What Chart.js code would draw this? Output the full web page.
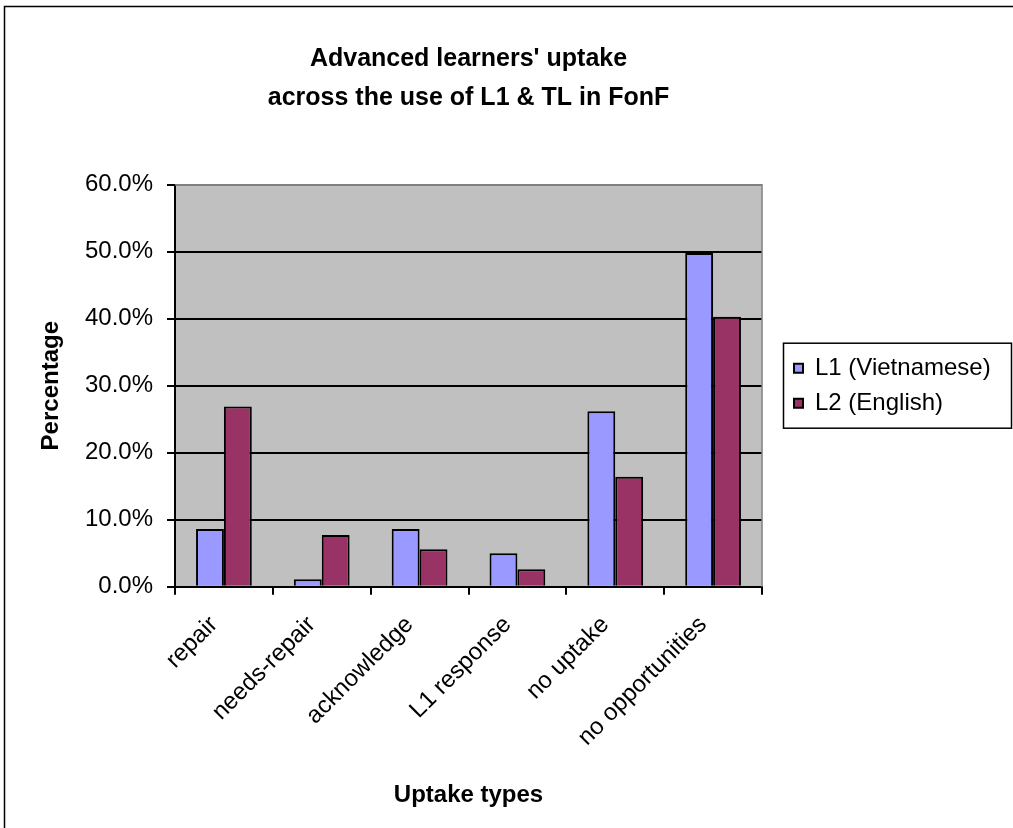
<!DOCTYPE html>
<html>
<head>
<meta charset="utf-8">
<script src="https://cdn.jsdelivr.net/npm/chart.js@4/dist/chart.umd.min.js"></script>
<style>
  html, body { margin: 0; padding: 0; background: #fff; }
  canvas { display: block; }
</style>
</head>
<body>
<canvas id="chart" width="1013" height="828"></canvas>
<script>
const categories = ['repair', 'needs-repair', 'acknowledge', 'L1 response', 'no uptake', 'no opportunities'];
const l1Vietnamese = [8.6, 1.1, 8.6, 5.0, 26.2, 49.8];
const l2English = [26.9, 7.7, 5.6, 2.6, 16.4, 40.3];
const yTicks = [0, 10, 20, 30, 40, 50, 60];

const FONT = 'Arial, "Liberation Sans", sans-serif';
Chart.defaults.font.family = FONT;
Chart.defaults.color = '#000';

// plot background, gray frame, legend size/shift + border, outer chart frame
const excelLook = {
  id: 'excelLook',
  beforeLayout(chart) {
    const lg = chart.legend;
    if (lg && !lg._fixedFit) {
      const fit = lg.fit;
      lg.fit = function () { fit.call(this); this.width = 251; };
      lg._fixedFit = true;
    }
  },
  afterLayout(chart) {
    const lg = chart.legend;
    lg.left += 21; lg.right += 21;
  },
  beforeDraw(chart) {
    const { ctx, chartArea: a } = chart;
    ctx.save();
    ctx.fillStyle = '#C0C0C0';
    ctx.fillRect(a.left, a.top, a.right - a.left, a.bottom - a.top);
    ctx.restore();
  },
  beforeDatasetsDraw(chart) {
    const { ctx, chartArea: a } = chart;
    ctx.save();
    ctx.strokeStyle = '#808080';
    ctx.lineWidth = 1.5;
    ctx.beginPath();
    ctx.moveTo(a.left, a.top);
    ctx.lineTo(a.right, a.top);
    ctx.lineTo(a.right, a.bottom);
    ctx.stroke();
    ctx.restore();
  },
  afterDraw(chart) {
    const { ctx, chartArea: a } = chart;
    ctx.save();
    ctx.strokeStyle = '#000';
    ctx.lineWidth = 1.5;
    const mid = (a.top + a.bottom) / 2;
    ctx.strokeRect(a.right + 21.5, mid - 42.5, 228, 85);
    ctx.strokeRect(4.5, 6.5, 1100, 1000);
    ctx.restore();
  }
};

new Chart(document.getElementById('chart'), {
  type: 'bar',
  data: {
    labels: categories,
    datasets: [
      {
        label: 'L1 (Vietnamese)',
        data: l1Vietnamese,
        backgroundColor: '#9999FF',
        borderColor: '#000',
        borderWidth: 2
      },
      {
        label: 'L2 (English)',
        data: l2English,
        backgroundColor: '#993366',
        borderColor: '#000',
        borderWidth: 2
      }
    ]
  },
  options: {
    responsive: false,
    animation: false,
    devicePixelRatio: 1,
    categoryPercentage: 0.57,
    barPercentage: 1,
    layout: { padding: 0 },
    plugins: {
      title: {
        display: true,
        fullSize: false,
        text: ["Advanced learners' uptake", 'across the use of L1 & TL in FonF'],
        color: '#000',
        font: { size: 25, weight: 'bold', lineHeight: 1.56 },
        padding: { top: 39.5, bottom: 67.2 }
      },
      legend: {
        position: 'right',
        fullSize: false,
        align: 'center',
        labels: {
          font: { size: 24 },
          color: '#000',
          boxWidth: 9,
          boxHeight: 9,
          padding: 11
        }
      },
      tooltip: { enabled: false }
    },
    scales: {
      x: {
        afterFit(scale) { scale.height = 241.3; },
        grid: {
          offset: true,
          drawOnChartArea: false,
          color: '#000',
          lineWidth: 2,
          tickLength: 8
        },
        border: { color: '#000', width: 2 },
        ticks: {
          font: { size: 24 },
          color: '#000',
          minRotation: 45,
          maxRotation: 45,
          autoSkip: false,
          labelOffset: -10,
          padding: 16
        },
        title: {
          display: true,
          text: 'Uptake types',
          color: '#000',
          font: { size: 24, weight: 'bold' },
          padding: { top: 0, bottom: 18 }
        }
      },
      y: {
        min: 0,
        max: 60,
        afterFit(scale) { scale.width = 175; },
        afterBuildTicks(scale) { scale.ticks = yTicks.map(v => ({ value: v })); },
        grid: {
          color: ctx => (ctx.tick && ctx.tick.value === 60 ? '#808080' : '#000'),
          lineWidth: 2,
          tickColor: '#000',
          tickLength: 8
        },
        border: { color: '#000', width: 2 },
        ticks: {
          font: { size: 24 },
          color: '#000',
          padding: 14,
          callback: v => v.toFixed(1) + '%'
        },
        title: {
          display: true,
          text: 'Percentage',
          color: '#000',
          font: { size: 24, weight: 'bold' },
          padding: { top: 36.6, bottom: 0 }
        }
      }
    }
  },
  plugins: [excelLook]
});
</script>
</body>
</html>
